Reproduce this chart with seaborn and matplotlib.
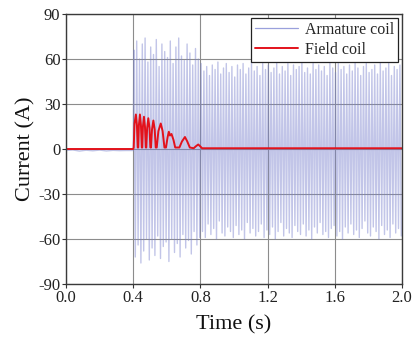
import numpy as np
import pandas as pd
import matplotlib
matplotlib.use("Agg")
import matplotlib.pyplot as plt
import seaborn as sns

# ---------------- data ----------------
x_ticks = [0.0, 0.4, 0.8, 1.2, 1.6, 2.0]
x_tick_labels = ["0.0", "0.4", "0.8", "1.2", "1.6", "2.0"]
y_ticks = [-90, -60, -30, 0, 30, 60, 90]
y_tick_labels = ["-90", "-60", "-30", "0", "30", "60", "90"]

# armature coil before the fault (t = 0 ... 0.4 s), small offset noise
pre_time = [0.00, 0.04, 0.08, 0.12, 0.16, 0.20, 0.24, 0.28, 0.32, 0.36, 0.40]
pre_current = [-1.0, -0.6, -1.4, -0.8, -1.2, -0.7, -1.3, -0.9, -1.1, -1.0, -1.0]

# armature coil: positive / negative peak of each cycle (0.4 ... 2.0 s, ~60 Hz)
armature_freq = 60.0
armature_pos = [66, 72, 60, 70, 74, 58, 68, 63, 73, 55, 70, 65, 61, 72, 57, 68, 74, 62, 59, 70, 64, 56, 67, 60,
                57, 52, 55, 49, 56, 53, 58, 50, 54, 57, 51, 55, 48, 56, 53, 57, 50, 54, 58, 52, 55, 49, 57, 53,
                56, 51, 54, 58, 50, 55, 52, 57, 49, 56, 53, 55, 58, 51, 54, 50, 57, 53, 56, 52, 55, 49, 58, 54,
                51, 57, 53, 55, 50, 56, 52, 58, 54, 49, 55, 57, 51, 53, 56, 50, 58, 52, 54, 57, 49, 55, 53, 56]
armature_neg = [-72, -64, -76, -68, -60, -74, -66, -71, -58, -73, -65, -62, -75, -60, -69, -63, -72, -57, -66, -61, -70, -55, -64, -59,
                -55, -59, -50, -57, -53, -60, -48, -56, -58, -52, -55, -59, -51, -57, -54, -60, -49, -56, -53, -58, -55, -50, -59, -54,
                -57, -52, -60, -55, -49, -58, -53, -56, -59, -51, -55, -57, -50, -58, -54, -60, -52, -56, -49, -57, -55, -59, -53, -51,
                -58, -55, -60, -52, -56, -50, -57, -54, -59, -53, -48, -56, -58, -52, -55, -60, -51, -57, -54, -59, -50, -56, -53, -58]

# field coil current
field_time = [0.000, 0.400, 0.403, 0.408, 0.416, 0.422, 0.427,
              0.430, 0.434, 0.440, 0.446, 0.451,
              0.454, 0.458, 0.464, 0.470, 0.475,
              0.478, 0.483, 0.490, 0.497, 0.502,
              0.506, 0.512, 0.520, 0.528, 0.534,
              0.540, 0.550, 0.564, 0.575, 0.586,
              0.595, 0.605, 0.612, 0.619, 0.628, 0.640, 0.650,
              0.675, 0.690, 0.708, 0.722, 0.737,
              0.760, 0.775, 0.787, 0.797, 0.810, 1.200, 1.600, 2.000]
field_current = [0.0, 0.0, 1.0, 17.0, 23.0, 16.0, 1.0,
                 1.0, 16.0, 23.0, 16.0, 1.0,
                 1.0, 15.0, 21.5, 15.0, 1.0,
                 1.0, 14.0, 20.5, 14.0, 1.0,
                 1.0, 13.0, 19.0, 13.0, 1.0,
                 1.0, 12.0, 17.0, 12.0, 1.0,
                 1.0, 8.0, 11.5, 9.0, 10.0, 6.0, 1.0,
                 1.0, 5.0, 8.0, 5.0, 1.0,
                 0.5, 2.0, 3.0, 2.0, 0.5, 0.5, 0.5, 0.5]

# ---------------- build tables ----------------
half = 0.5 / armature_freq
n = len(armature_pos)
peak_time = []
peak_val = []
for k in range(n):
    peak_time.append(0.4 + half * (2 * k + 0.5))
    peak_val.append(armature_pos[k])
    peak_time.append(0.4 + half * (2 * k + 1.5))
    peak_val.append(armature_neg[k])

arm_df = pd.DataFrame({"Time": list(pre_time) + peak_time,
                       "Current": list(pre_current) + peak_val})
field_df = pd.DataFrame({"Time": field_time, "Current": field_current})

# ---------------- plot ----------------
sns.set_theme(style="ticks")
plt.rcParams["font.family"] = ["Liberation Serif", "DejaVu Serif"]
plt.rcParams["mathtext.fontset"] = "stix"

fig = plt.figure(figsize=(4.14, 3.40), dpi=100)
ax = fig.add_axes([66 / 414, 1 - 284 / 340, (402 - 66) / 414, (284 - 14) / 340])

blue = "#7880cc"
red = "#e3121b"

sns.lineplot(data=arm_df, x="Time", y="Current", ax=ax, color=blue, lw=1.0,
             alpha=0.45, estimator=None, sort=False, label="Armature coil")
sns.lineplot(data=field_df, x="Time", y="Current", ax=ax, color=red, lw=1.4,
             estimator=None, sort=False, label="Field coil")

ax.set_xlim(0, 2.0)
ax.set_ylim(-90, 90)
ax.set_xticks(x_ticks)
ax.set_xticklabels(x_tick_labels)
ax.set_yticks(y_ticks)
ax.set_yticklabels(y_tick_labels)
ax.grid(True, color="#8c8c8c", lw=0.8)
ax.set_axisbelow(True)
ax.tick_params(axis="both", labelsize=12, length=3, width=0.8, colors="#333333",
               labelcolor="#222222", direction="out", pad=1)
for s in ax.spines.values():
    s.set_color("#3a3a3a")
    s.set_linewidth(1.0)

ax.set_xlabel("Time (s)", fontsize=16, labelpad=7, color="#111111")
ax.set_ylabel("Current (A)", fontsize=16, labelpad=2, color="#111111")

leg = ax.legend(loc="upper right", fontsize=11.5, frameon=True, fancybox=False,
                edgecolor="#222222", framealpha=1, handlelength=2.7,
                borderaxespad=0.25, borderpad=0.25, labelspacing=0.25, handletextpad=0.4)
leg.get_frame().set_linewidth(0.9)
handles = leg.get_lines()
handles[0].set_color("#9aa0dc")
handles[0].set_alpha(1.0)
handles[0].set_linewidth(0.9)
handles[1].set_alpha(1.0)

fig.savefig("out.png", dpi=100)
